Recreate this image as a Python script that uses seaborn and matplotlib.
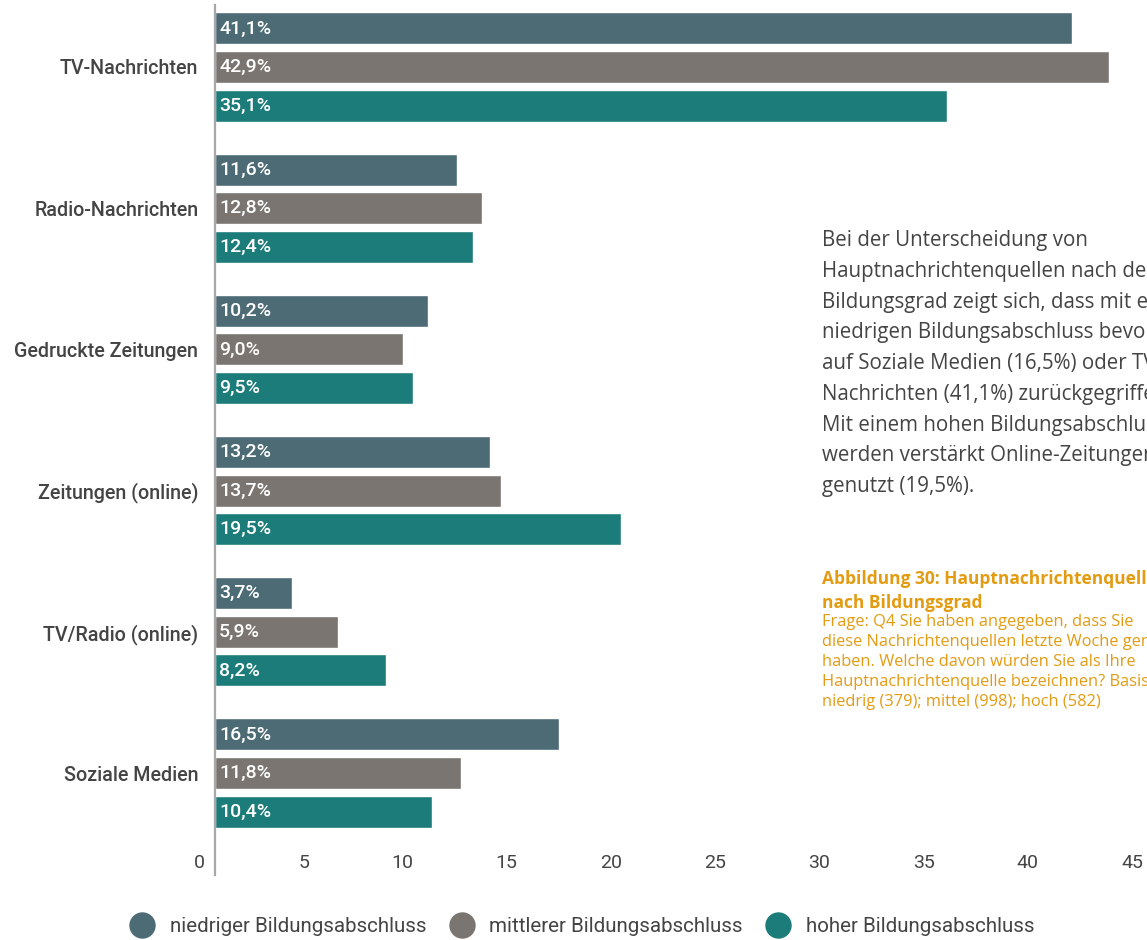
import matplotlib
matplotlib.use("Agg")
import matplotlib.pyplot as plt
import matplotlib.transforms as mtransforms
from matplotlib.lines import Line2D
import seaborn as sns
import pandas as pd

categories = ["TV-Nachrichten", "Radio-Nachrichten", "Gedruckte Zeitungen",
              "Zeitungen (online)", "TV/Radio (online)", "Soziale Medien"]
groups = ["niedriger Bildungsabschluss", "mittlerer Bildungsabschluss", "hoher Bildungsabschluss"]
niedrig = [41.1, 11.6, 10.2, 13.2, 3.7, 16.5]
mittel = [42.9, 12.8, 9.0, 13.7, 5.9, 11.8]
hoch = [35.1, 12.4, 9.5, 19.5, 8.2, 10.4]
xticks = [0, 5, 10, 15, 20, 25, 30, 35, 40, 45]
colors = ["#4d6b75", "#7a7570", "#1c7c79"]

rows = []
for g, vals in zip(groups, [niedrig, mittel, hoch]):
    for c, v in zip(categories, vals):
        rows.append({"Quelle": c, "Gruppe": g, "Wert": v})
df = pd.DataFrame(rows)

sns.set_theme(style="white")
plt.rcParams["font.family"] = ["Roboto", "DejaVu Sans"]

W, H = 1147, 940
fig = plt.figure(figsize=(W / 100, H / 100), dpi=100)
ax = fig.add_axes([215 / W, (H - 875) / H, (1153 - 215) / W, 870 / H])

sns.barplot(data=df, y="Quelle", x="Wert", hue="Gruppe", order=categories,
            hue_order=groups, palette=colors, orient="h", width=0.82, gap=0.17,
            saturation=1, legend=False, ax=ax)

ax.set_xlim(0, 45)
ax.set_ylim(5.722, -0.439)
ax.set_xlabel("")
ax.set_ylabel("")
for s in ["top", "right", "bottom"]:
    ax.spines[s].set_visible(False)
ax.spines["left"].set_color("#a8a8a8")
ax.spines["left"].set_linewidth(1.6)

ax.set_xticks(xticks)
ax.set_xticklabels([str(t) for t in xticks])
ax.tick_params(axis="x", length=0, pad=-15, labelsize=14, labelcolor="#444444")
ax.tick_params(axis="y", length=0, pad=12, labelsize=14.2, labelcolor="#444444")
for lab in ax.get_yticklabels():
    lab.set_fontweight("medium")
off = mtransforms.ScaledTranslation(-10 / 100, 0, fig.dpi_scale_trans)
for lab in ax.get_xticklabels():
    lab.set_ha("right")
    lab.set_transform(lab.get_transform() + off)

loff = mtransforms.offset_copy(ax.transData, fig=fig, x=4, y=0, units="dots")
for cont, vals in zip(ax.containers, [niedrig, mittel, hoch]):
    for bar, v in zip(cont, vals):
        yc = bar.get_y() + bar.get_height() / 2
        ax.text(0, yc, f"{v:.1f}%".replace(".", ","), transform=loff,
                ha="left", va="center", color="white", fontsize=14,
                fontweight="medium")

body = ("Bei der Unterscheidung von\n"
        "Hauptnachrichtenquellen nach dem\n"
        "Bildungsgrad zeigt sich, dass mit einem\n"
        "niedrigen Bildungsabschluss bevorzugt\n"
        "auf Soziale Medien (16,5%) oder TV-\n"
        "Nachrichten (41,1%) zurückgegriffen wird.\n"
        "Mit einem hohen Bildungsabschluss\n"
        "werden verstärkt Online-Zeitungen\n"
        "genutzt (19,5%).")
fig.text(822 / W, 1 - 230 / H, body, ha="left", va="top", fontsize=14.8,
         color="#444444", family=["Open Sans", "DejaVu Sans"], linespacing=1.61)

orange = "#e39b12"
fig.text(822 / W, 1 - 570 / H, "Abbildung 30: Hauptnachrichtenquellen\nnach Bildungsgrad",
         ha="left", va="top", fontsize=12.5, color=orange, fontweight="bold",
         family=["Open Sans", "DejaVu Sans"], linespacing=1.4)
cap = ("Frage: Q4 Sie haben angegeben, dass Sie\n"
       "diese Nachrichtenquellen letzte Woche genutzt\n"
       "haben. Welche davon würden Sie als Ihre\n"
       "Hauptnachrichtenquelle bezeichnen? Basis:\n"
       "niedrig (379); mittel (998); hoch (582)")
fig.text(822 / W, 1 - 614 / H, cap, ha="left", va="top", fontsize=11.8,
         color=orange, family=["Open Sans", "DejaVu Sans"], linespacing=1.34)

handles = [Line2D([], [], marker="o", linestyle="", markersize=18,
                  markerfacecolor=c, markeredgecolor=c) for c in colors]
fig.legend(handles, groups, loc="center", bbox_to_anchor=(578 / W, 1 - 927 / H),
           ncol=3, frameon=False, fontsize=14.8, handletextpad=0.35,
           columnspacing=0.7, labelcolor="#444444")

fig.savefig("out.png", dpi=100)
